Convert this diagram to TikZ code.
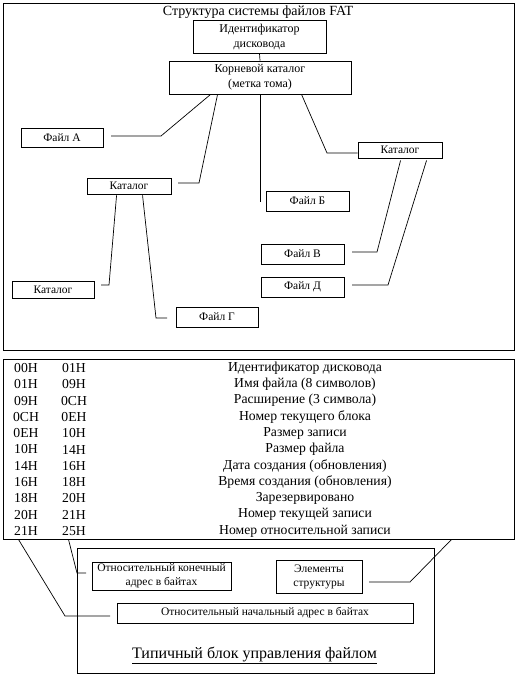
\documentclass[tikz,border=0pt]{standalone}
\usepackage{fontspec}
\setmainfont{Liberation Serif}
\begin{document}
\begin{tikzpicture}[x=1pt,y=-1pt,
  box/.style={draw, line width=0.9pt, inner sep=0pt, align=center},
  frame/.style={draw, line width=1pt, inner sep=0pt},
  con/.style={line width=0.7pt},
  boxtxt/.style={font=\fontsize{12}{15}\selectfont},
  smalltxt/.style={font=\fontsize{11.5}{14}\selectfont},
  tabtxt/.style={font=\fontsize{13.7}{15}\selectfont, inner sep=0pt}]
\useasboundingbox (0,0) rectangle (519,678);

% ---------- upper frame ----------
\node[frame, minimum width=511pt, minimum height=347pt] (topframe) at (258.5,176.5) {};
\node[font=\fontsize{14}{16}\selectfont, inner sep=0pt] (title) at (258,12) {Структура системы файлов FAT};

\node[box, boxtxt, minimum width=133pt, minimum height=33pt] (ident) at (259.5,36.5) {Идентификатор\\дисковода};
\node[box, boxtxt, minimum width=182pt, minimum height=33pt] (root) at (260,77.5) {Корневой каталог\\(метка тома)};

\node[box, smalltxt, minimum width=82pt, minimum height=19pt] (fileA) at (62,137.5) {Файл А};
\node[box, smalltxt, minimum width=84pt, minimum height=16pt] (catM) at (129,186) {Каталог};
\node[box, smalltxt, minimum width=83pt, minimum height=20pt] (fileB) at (307.5,201) {Файл Б};
\node[box, smalltxt, minimum width=84pt, minimum height=16pt] (catR) at (400,150) {Каталог};
\node[box, smalltxt, minimum width=83pt, minimum height=20pt] (fileV) at (302.5,254) {Файл В};
\node[box, smalltxt, minimum width=83pt, minimum height=20pt] (fileD) at (302.5,287) {Файл Д};
\node[box, smalltxt, minimum width=82pt, minimum height=17pt] (catL) at (53,289.5) {Каталог};
\node[box, smalltxt, minimum width=82pt, minimum height=20pt] (fileG) at (217,317) {Файл Г};

\coordinate (endA) at (111,136);
\coordinate (endM) at (178,183);
\coordinate (endB) at (260,202);
\coordinate (endV) at (352,252);
\coordinate (endD) at (352,285);
\coordinate (endL) at (101,285);
\coordinate (endG) at (167,318);

\draw[con] (ident.south) -- (root.north);
\draw[con] ([xshift=42pt]root.south west) -- (161,136) -- (endA);
\draw[con] ([xshift=49pt]root.south west) -- (199,183) -- (endM);
\draw[con] (root.south) -- (endB);
\draw[con] ([xshift=133pt]root.south west) -- (327,153) -- ([yshift=-3pt]catR.west);
\draw[con] ([xshift=43pt,yshift=-2pt]catR.south west) -- (377,252) -- (endV);
\draw[con] ([xshift=69pt,yshift=-2pt]catR.south west) -- (388,285) -- (endD);
\draw[con] ([xshift=30pt,yshift=-1pt]catM.south west) -- (109,285) -- (endL);
\draw[con] ([xshift=56pt,yshift=-1pt]catM.south west) -- (156,318) -- (endG);

% ---------- table ----------
\node[frame, minimum width=511pt, minimum height=180pt] (table) at (258.5,449) {};
\foreach \a/\b/\c [count=\i] in {
  00H/01H/{Идентификатор дисковода},
  01H/09H/{Имя файла (8 символов)},
  09H/0CH/{Расширение (3 символа)},
  0CH/0EH/{Номер текущего блока},
  0EH/10H/{Размер записи},
  10H/14H/{Размер файла},
  14H/16H/{Дата создания (обновления)},
  16H/18H/{Время создания (обновления)},
  18H/20H/{Зарезервировано},
  20H/21H/{Номер текущей записи},
  21H/25H/{Номер относительной записи}} {
  \node[tabtxt] (ra\i) at (26,{368+16.3*(\i-1)}) {\a};
  \node[tabtxt] (rb\i) at (74,{368+16.3*(\i-1)}) {\b};
  \node[tabtxt] (rc\i) at (305,{368+16.3*(\i-1)}) {\c};
}

% ---------- lower frame ----------
\node[frame, minimum width=357pt, minimum height=125pt] (fcb) at (255.5,610.5) {};
\node[box, smalltxt, minimum width=139pt, minimum height=28pt] (relEnd) at (161.5,576) {Относительный конечный\\адрес в байтах};
\node[box, smalltxt, minimum width=86pt, minimum height=33pt] (elem) at (319,576.5) {Элементы\\структуры};
\node[box, smalltxt, minimum width=296pt, minimum height=20pt] (relStart) at (265,613) {Относительный начальный адрес в байтах};
\node[font=\fontsize{16}{18}\selectfont, inner sep=0pt] (fcbtitle) at (254.5,655) {\underline{Типичный блок управления файлом}};

\coordinate (endS) at (110,616);
\coordinate (endE) at (86,573);
\coordinate (endEl) at (369,582);
\draw[con] ([xshift=16pt]table.south west) -- (65,616) -- (endS);
\draw[con] ([xshift=66pt]table.south west) -- (77,573) -- (endE);
\draw[con] ([xshift=449pt]table.south west) -- (410,582) -- (endEl);
\end{tikzpicture}
\end{document}
